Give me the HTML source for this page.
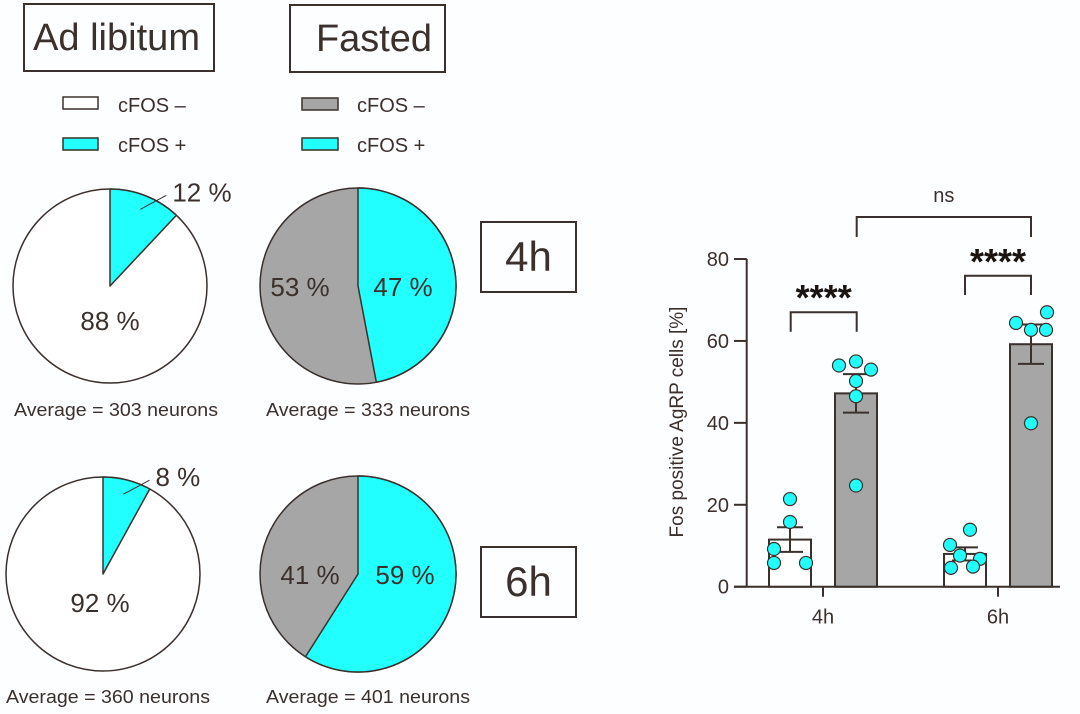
<!DOCTYPE html>
<html><head><meta charset="utf-8"><style>
html,body{margin:0;padding:0;background:#fdfeff;}
svg{display:block;font-family:"Liberation Sans",sans-serif;}
</style></head><body>
<svg id="fig" width="1080" height="714" viewBox="0 0 1080 714" xmlns="http://www.w3.org/2000/svg">
<rect width="1080" height="714" fill="#fdfeff"/>
<g fill="#3a302c" stroke="#3a302c">
<rect x="24" y="4" width="190" height="67" fill="none" stroke-width="2"/>
<text x="33" y="50" font-size="38" stroke="none" textLength="167" lengthAdjust="spacingAndGlyphs">Ad libitum</text>
<rect x="290" y="5" width="155" height="67" fill="none" stroke-width="2"/>
<text x="316" y="51" font-size="38" stroke="none" textLength="116" lengthAdjust="spacingAndGlyphs">Fasted</text>
<rect x="63" y="97" width="35" height="12" fill="#fff" stroke-width="1.5"/>
<text x="118" y="112" font-size="20" stroke="none">cFOS –</text>
<rect x="63" y="138" width="35" height="12" fill="#22ffff" stroke-width="1.5"/>
<text x="118" y="152" font-size="20" stroke="none">cFOS +</text>
<rect x="302" y="98" width="36" height="12" fill="#a6a6a6" stroke-width="1.5"/>
<text x="357" y="112" font-size="20" stroke="none">cFOS –</text>
<rect x="302" y="138" width="36" height="12" fill="#22ffff" stroke-width="1.5"/>
<text x="357" y="152" font-size="20" stroke="none">cFOS +</text>
<rect x="481" y="222" width="95" height="70" fill="none" stroke-width="2"/>
<text x="528.5" y="271" font-size="42" text-anchor="middle" stroke="none">4h</text>
<rect x="481" y="547" width="95" height="70" fill="none" stroke-width="2"/>
<text x="528.5" y="596" font-size="42" text-anchor="middle" stroke="none">6h</text>
</g>
<g id="pies"></g>
<g id="bars"></g>
</svg>
<script>
// Pie data
const pieNames = ['adlib-4h','fasted-4h','adlib-6h','fasted-6h'];
const piePositive = [12, 47, 8, 59];
const pieNegative = [88, 53, 92, 41];
const pieNeurons = [303, 333, 360, 401];
// Bar data
const barGroups = ['4h','6h'];
const adlibMeans = [11.5, 8];
const adlibSem = [3, 1.6];
const fastedMeans = [47.2, 59.2];
const fastedSem = [4.7, 4.8];
const adlibPoints4h = [21.4, 15.8, 9.2, 5.8, 5.8];
const fastedPoints4h = [54, 55, 53, 50.2, 46.5, 24.7];
const adlibPoints6h = [13.9, 10.2, 7.6, 6.8, 4.6, 4.9];
const fastedPoints6h = [64.4, 67, 62.7, 62.7, 39.9];
const yTicks = [0, 20, 40, 60, 80];

const NS = 'http://www.w3.org/2000/svg';
const INK = '#3a302c', CYAN = '#22ffff', GRAY = '#a6a6a6';
function mk(tag, attrs, parent, txt){
  const e = document.createElementNS(NS, tag);
  for (const k in attrs) e.setAttribute(k, attrs[k]);
  if (txt !== undefined) e.textContent = txt;
  parent.appendChild(e);
  return e;
}
// --- pies ---
const pg = document.getElementById('pies');
const pieLayout = [
  {cx:110, cy:286, r:97, neg:'#ffffff', negLbl:[110,320], posLbl:null},
  {cx:358, cy:286, r:98, neg:GRAY, negLbl:[300,286], posLbl:[403,286]},
  {cx:103, cy:574, r:97, neg:'#ffffff', negLbl:[100,602], posLbl:null},
  {cx:358, cy:574, r:98, neg:GRAY, negLbl:[310,574], posLbl:[405,574]}
];
const avgX = [14, 266, 6, 266], avgY = [416, 416, 703, 703];
pieLayout.forEach((L, i) => {
  const total = piePositive[i] + pieNegative[i];
  const ang = piePositive[i] / total * 2 * Math.PI;
  const ex = L.cx + L.r * Math.sin(ang), ey = L.cy - L.r * Math.cos(ang);
  const large = ang > Math.PI ? 1 : 0;
  const bg = mk('circle', {cx:L.cx, cy:L.cy, r:L.r, fill:L.neg, stroke:INK, 'stroke-width':1.5}, pg);
  
  
  const sl = mk('path', {d:`M${L.cx},${L.cy} L${L.cx},${L.cy-L.r} A${L.r},${L.r} 0 ${large} 1 ${ex},${ey} Z`, fill:CYAN, stroke:INK, 'stroke-width':1.5, 'stroke-linejoin':'round'}, pg);
  
  
  const nl = mk('text', {x:L.negLbl[0], y:L.negLbl[1] + 10, 'font-size':26, 'text-anchor':'middle', fill:INK}, pg, pieNegative[i] + ' %');
  
  
  if (L.posLbl) {
    const pl = mk('text', {x:L.posLbl[0], y:L.posLbl[1] + 10, 'font-size':26, 'text-anchor':'middle', fill:INK}, pg, piePositive[i] + ' %');
    
    
  } else {
    const mid = ang / 2;
    const sx = L.cx + L.r * 0.85 * Math.sin(mid), sy = L.cy - L.r * 0.85 * Math.cos(mid);
    const ln = mk('line', {x1:sx, y1:sy, x2:sx + 26, y2:sy - 14, stroke:INK, 'stroke-width':1}, pg);
    
    
    const pl = mk('text', {x:sx + 32, y:sy - 8, 'font-size':26, fill:INK}, pg, piePositive[i] + ' %');
    
    
  }
  const at = mk('text', {x:avgX[i], y:avgY[i], 'font-size':18, fill:INK, textLength:204, lengthAdjust:'spacingAndGlyphs'}, pg, 'Average = ' + pieNeurons[i] + ' neurons');
  
  
});
// --- bar chart ---
const bg2 = document.getElementById('bars');
const Y0 = 586.7, PX = 4.096;
const yS = v => Y0 - v * PX;
const groupX = [823, 998];
const xAxis = mk('path', {d:`M734,${Y0} H1060`, stroke:INK, 'stroke-width':2, fill:'none'}, bg2);


const yAxis = mk('path', {d:`M746.7,${Y0} V${yS(80)}`, stroke:INK, 'stroke-width':2, fill:'none'}, bg2);


yTicks.forEach(t => {
  const tk = mk('line', {x1:734, x2:746.7, y1:yS(t), y2:yS(t), stroke:INK, 'stroke-width':2}, bg2);
  
  
  const tl = mk('text', {x:729, y:yS(t) + 7, 'font-size':20, 'text-anchor':'end', fill:INK}, bg2, t);
  
  
});
const yt = mk('text', {x:0, y:0, 'font-size':19, 'text-anchor':'middle', fill:INK, transform:'translate(683,422) rotate(-90)'}, bg2, 'Fos positive AgRP cells [%]');


const ptsA = [adlibPoints4h, adlibPoints6h], ptsF = [fastedPoints4h, fastedPoints6h];
const jitA = [[0,0,-16,-16,16],[5,-15,-5,15,-14,8]];
const jitF = [[-17,0,15,0,0,0],[-15,16,0,15,0]];
barGroups.forEach((g, i) => {
  const gx = groupX[i];
  const xt = mk('line', {x1:gx, x2:gx, y1:Y0, y2:Y0 + 10, stroke:INK, 'stroke-width':2}, bg2);
  
  
  const xl = mk('text', {x:gx, y:Y0 + 37, 'font-size':20, 'text-anchor':'middle', fill:INK}, bg2, g);
  
  
  [[gx - 33, adlibMeans[i], adlibSem[i], '#ffffff', ptsA[i], jitA[i], 'adlib'],
   [gx + 33, fastedMeans[i], fastedSem[i], GRAY, ptsF[i], jitF[i], 'fasted']].forEach(b => {
    const [cx, m, s, fill, pts, jit, nm] = b;
    const r = mk('rect', {x:cx - 21, y:yS(m), width:42, height:Y0 - yS(m), fill:fill, stroke:INK, 'stroke-width':2}, bg2);
    
    
    const eb = mk('path', {d:`M${cx},${yS(m - s)} V${yS(m + s)} M${cx - 13},${yS(m + s)} H${cx + 13} M${cx - 13},${yS(m - s)} H${cx + 13}`, stroke:INK, 'stroke-width':2, fill:'none'}, bg2);
    
    
    pts.forEach((v, k) => {
      const c = mk('circle', {cx:cx + (jit[k] || 0), cy:yS(v), r:6.5, fill:CYAN, stroke:INK, 'stroke-width':1.2}, bg2);
      
      
    });
  });
});
function bracket(x1, x2, yTop, yLeg, label, size, name){
  const p = mk('path', {d:`M${x1},${yLeg} V${yTop} H${x2} V${yLeg}`, stroke:INK, 'stroke-width':2, fill:'none'}, bg2);
  
  
  if (label) {
    const t = mk('text', {x:(x1 + x2) / 2, y:yTop - 15, 'font-size':size, 'text-anchor':'middle', fill:INK}, bg2, label);
    
    
  }
}
bracket(790.7, 856.7, 312.3, 331.7, '', 1, 'sig-4h');
bracket(965, 1031, 275.7, 295, '', 1, 'sig-6h');
bracket(856.7, 1031, 217, 237, 'ns', 20, 'ns');
const s1 = mk('text', {x:823.7, y:310, 'font-size':36, 'font-weight':'bold', 'text-anchor':'middle', fill:'#1a1410'}, bg2, '****');


const s2 = mk('text', {x:998, y:274, 'font-size':36, 'font-weight':'bold', 'text-anchor':'middle', fill:'#1a1410'}, bg2, '****');


</script>
</body></html>
